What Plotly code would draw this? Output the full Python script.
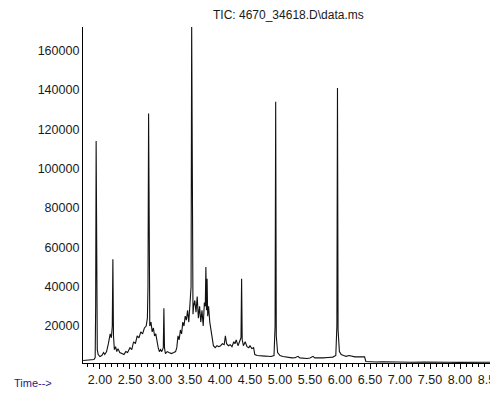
import plotly.graph_objects as go

# Retention time (min) and TIC abundance
time_min = [
    1.72, 1.80, 1.86, 1.90, 1.92, 1.928, 1.936, 1.944, 1.955, 1.97, 2.00,
    2.03, 2.06, 2.08, 2.11, 2.14, 2.17, 2.19, 2.205, 2.215, 2.225, 2.24,
    2.26, 2.28, 2.30, 2.33, 2.36, 2.40, 2.43, 2.46, 2.50, 2.53, 2.56, 2.59,
    2.62, 2.65, 2.68, 2.71, 2.74, 2.77, 2.79, 2.80, 2.81, 2.82, 2.83, 2.85,
    2.87, 2.89, 2.91, 2.93, 2.95, 2.97, 2.99, 3.01, 3.03, 3.055, 3.065,
    3.075, 3.09, 3.12, 3.15, 3.19, 3.23, 3.26, 3.28, 3.30, 3.32, 3.34,
    3.36, 3.38, 3.40, 3.42, 3.44, 3.46, 3.48, 3.50, 3.518, 3.528, 3.538,
    3.55, 3.56, 3.58, 3.60, 3.62, 3.64, 3.66, 3.68, 3.70, 3.72, 3.74,
    3.755, 3.765, 3.775, 3.785, 3.795, 3.81, 3.83, 3.85, 3.87, 3.89, 3.92,
    3.95, 3.98, 4.01, 4.04, 4.07, 4.09, 4.11, 4.14, 4.17, 4.20, 4.23, 4.25,
    4.27, 4.30, 4.33, 4.35, 4.36, 4.37, 4.39, 4.42, 4.45, 4.48, 4.50, 4.53,
    4.56, 4.58, 4.62, 4.66, 4.70, 4.75, 4.80, 4.85, 4.90, 4.918, 4.928,
    4.938, 4.96, 5.00, 5.05, 5.10, 5.15, 5.20, 5.25, 5.30, 5.33, 5.40,
    5.45, 5.50, 5.55, 5.58, 5.65, 5.72, 5.80, 5.88, 5.93, 5.948, 5.958,
    5.968, 5.99, 6.02, 6.06, 6.10, 6.15, 6.20, 6.25, 6.30, 6.35, 6.41,
    6.43, 6.50, 6.60, 6.70, 6.80, 6.90, 7.00, 7.20, 7.40, 7.60, 7.80,
    8.00, 8.20, 8.40, 8.63,
]
abundance = [
    2500, 2600, 2800, 3000, 4000, 30000, 114000, 20000, 8000, 5500, 4500,
    5000, 6500, 5500, 7000, 11000, 16000, 14000, 20000, 54000, 15000, 8000,
    9500, 7000, 8500, 6500, 6000, 5500, 7000, 6500, 9000, 8000, 12000, 11000,
    15000, 14000, 17000, 16000, 19000, 20000, 24000, 40000, 128000, 30000, 20000, 22000,
    17000, 19000, 15000, 16000, 12000, 9000, 7000, 8000, 7000, 9000, 29000,
    9000, 6000, 7000, 6500, 6000, 6500, 7000, 9000, 15000, 13000, 18000,
    16000, 22000, 20000, 25000, 23000, 28000, 22000, 30000, 40000, 174000, 35000,
    26000, 30000, 33000, 27000, 35000, 24000, 30000, 22000, 28000, 20000, 32000,
    30000, 50000, 28000, 44000, 25000, 30000, 22000, 18000, 12000, 10000, 9000,
    10000, 9500, 10000, 11000, 10500, 15000, 11000, 10000, 10500, 9500, 12000, 11000,
    13000, 10000, 12000, 14000, 44000, 13000, 10000, 12000, 9500, 9000, 10000, 8500,
    9000, 5500, 5000, 5000, 4800, 4700, 4600, 4500, 5000, 20000, 134000,
    15000, 6500, 5000, 4500, 4200, 4000, 3800, 3900, 4600, 3800, 3600,
    3500, 3700, 4600, 3800, 3700, 3800, 4000, 4200, 5000, 20000, 141000,
    18000, 7000, 5500, 5000, 4600, 5000, 4500, 4300, 4400, 4200, 4300,
    2000, 1800, 1700, 1800, 1700, 1600, 1700, 1600, 1700, 1500, 1600,
    1500, 1700, 1600, 1500,
]

x_tick_vals = [2.0, 2.5, 3.0, 3.5, 4.0, 4.5, 5.0, 5.5, 6.0, 6.5, 7.0, 7.5, 8.0, 8.5]
x_tick_text = ["2.00", "2.50", "3.00", "3.50", "4.00", "4.50", "5.00",
               "5.50", "6.00", "6.50", "7.00", "7.50", "8.00", "8.50"]
y_tick_vals = [20000, 40000, 60000, 80000, 100000, 120000, 140000, 160000]
y_tick_text = ["20000", "40000", "60000", "80000", "100000", "120000", "140000", "160000"]

title_text = "TIC: 4670_34618.D\\data.ms"
x_label_text = "Time-->"

fig = go.Figure()
fig.add_trace(go.Scatter(
    x=time_min, y=abundance, mode="lines",
    line=dict(color="#111111", width=1.1),
    hoverinfo="skip",
))

font_family = "Liberation Sans, Arial, sans-serif"

# page body has an 8px margin, so the figure is offset by 8px in the window
fig.update_layout(
    width=498, height=396,
    margin=dict(l=75, r=8, t=19, b=41, autoexpand=False),
    paper_bgcolor="white", plot_bgcolor="white",
    showlegend=False,
    font=dict(family=font_family, size=12, color="#1a1a1a"),
    xaxis=dict(
        range=[1.717, 8.633], automargin=False,
        tickmode="array", tickvals=x_tick_vals, ticktext=x_tick_text,
        ticks="outside", ticklen=5, tickwidth=1, tickcolor="black",
        showline=True, linecolor="black", linewidth=1.3,
        showgrid=False, zeroline=False,
        minor=dict(tick0=2.0, dtick=0.1, ticks="outside", ticklen=3,
                   tickwidth=1, tickcolor="black", showgrid=False),
        tickfont=dict(size=12.5),
    ),
    yaxis=dict(
        range=[1200, 172000], automargin=False,
        tickmode="array", tickvals=y_tick_vals, ticktext=y_tick_text,
        ticks="", showline=True, linecolor="black", linewidth=1.3,
        showgrid=False, zeroline=False,
        tickfont=dict(size=12.5),
    ),
    annotations=[
        dict(text=title_text, xref="paper", yref="paper",
             x=(288 - 83) / 415, y=1 + (27 - 15) / 336,
             xanchor="center", yanchor="middle", showarrow=False,
             font=dict(size=12, color="#1a1a1a")),
        dict(text=x_label_text, xref="paper", yref="paper",
             x=(12 - 83) / 415, y=(363 - 383) / 336,
             xanchor="left", yanchor="middle", showarrow=False,
             font=dict(size=11, color="#1c1c8c")),
    ],
)

fig.write_html("out.html")
